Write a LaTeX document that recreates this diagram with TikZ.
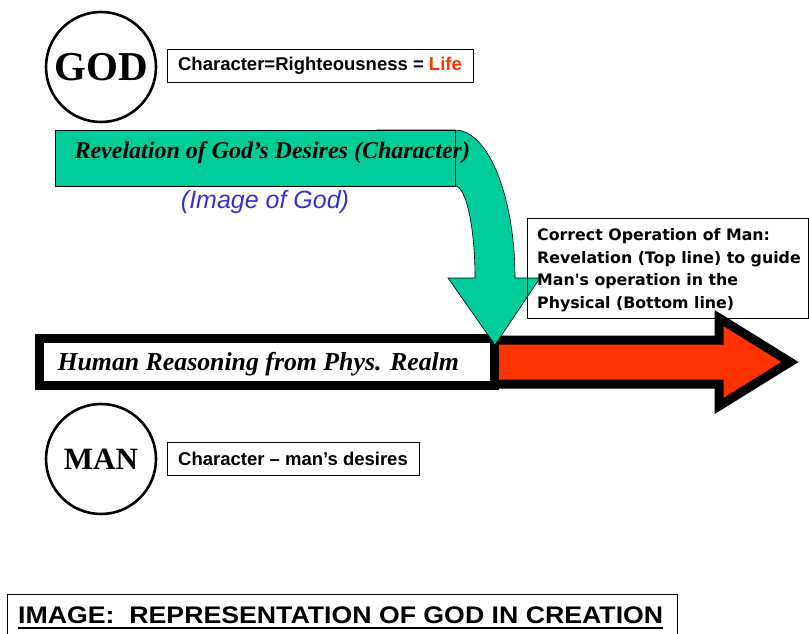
\documentclass[tikz,border=0pt]{standalone}
\usepackage{fontspec}
\usepackage{tikz}
\usetikzlibrary{calc}
\setmainfont{Liberation Serif}
\newfontfamily\arialfont{Liberation Sans}
\newfontfamily\comicfont{DejaVu Sans}
\definecolor{vert_revel}{HTML}{00CC99}
\definecolor{rouge_vie}{HTML}{FF3300}
\definecolor{bleu_image}{HTML}{3333CC}

\begin{document}
\begin{tikzpicture}[x=1pt,y=-1pt,
    cercle/.style={circle,draw,line width=2.6pt,minimum size=110pt,inner sep=0pt,font=\bfseries\fontsize{41}{41}\selectfont},
    etiquette/.style={draw,line width=0.7pt,inner sep=0pt,font=\arialfont\bfseries\fontsize{18.5}{20}\selectfont},
    titre/.style={font=\bfseries\itshape\fontsize{24}{26}\selectfont}]

        % Cadre de la page
        \path[use as bounding box] (0,0) rectangle (809,633);
        \clip (0,0) rectangle (809,633);

        % Cercles de Dieu et de l'homme
        \node[cercle] (god) at (101,67) {GOD};
        \node[cercle,font=\bfseries\fontsize{31}{31}\selectfont] (man) at (101,459) {MAN};

        % Etiquettes du caractere
        \node[etiquette,minimum width=306pt,minimum height=33pt] (charGod) at (320,65.5) {Character=Righteousness = \textcolor{rouge_vie}{Life}};
        \node[etiquette,minimum width=252pt,minimum height=33pt] (charMan) at (293,458.5) {Character – man’s desires};

        % Fleche rouge du raisonnement humain
        \draw[fill=rouge_vie,line width=9pt,miter limit=10] (494,340) -- (719,340) -- (719,318) -- (790,362) -- (719,406) -- (719,384) -- (494,384) -- cycle;

        % Cadre du raisonnement humain
        \node[draw,line width=9pt,fill=white,minimum width=455pt,minimum height=47pt,inner sep=0pt] (raison) at (267,362) {};
        \node[titre,font=\bfseries\itshape\fontsize{25.8}{27}\selectfont,anchor=base west] (raisonTxt) at (54,370) {Human Reasoning from Phys. Realm};

        % Fleche verte de la revelation (courbe vers le bas)
        \draw[fill=vert_revel,line width=0.6pt] (377,130) -- (455,130)
            arc[start angle=-90,end angle=0,x radius=60,y radius=148]
            -- (540,278) -- (495,345) -- (448,278) -- (475,278)
            arc[start angle=0,end angle=-90,x radius=20,y radius=92]
            -- (377,186) -- cycle;
        \node[draw,fill=vert_revel,line width=0.6pt,minimum width=400pt,minimum height=56pt,inner sep=0pt] (revel) at (255,158) {};
        \node[titre,anchor=base west] (revelTxt) at (71,158) {Revelation of God’s Desires (Character)};
        \node[font=\arialfont\itshape\fontsize{25}{25}\selectfont,text=bleu_image] (image) at (265,202) {(Image of God)};

        % Encadre de l'operation correcte
        \node[draw,line width=0.7pt,minimum width=281pt,minimum height=100pt,inner sep=0pt] (correct) at (667.5,268) {};
        \node[anchor=north west,align=left,inner sep=0pt,font=\comicfont\bfseries\fontsize{15.8}{22.8}\selectfont] (correctTxt) at (537,228) {Correct Operation of Man:\\Revelation (Top line) to guide\\Man's operation in the\\Physical (Bottom line)};

        % Titre souligne en bas
        \node[draw,line width=0.7pt,minimum width=670pt,minimum height=60pt,anchor=north west,inner sep=0pt] (titreBas) at (7,594) {};
        \node[anchor=base west,inner sep=0pt,xscale=1.112,font=\arialfont\bfseries\fontsize{24}{24}\selectfont] (titreTxt) at (18,623) {IMAGE:\ \ REPRESENTATION OF GOD IN CREATION};
        \draw[line width=2.6pt] ($(titreTxt.base west)+(0,5)$) -- ($(titreTxt.base east)+(0,5)$);
    \end{tikzpicture}
\end{document}
